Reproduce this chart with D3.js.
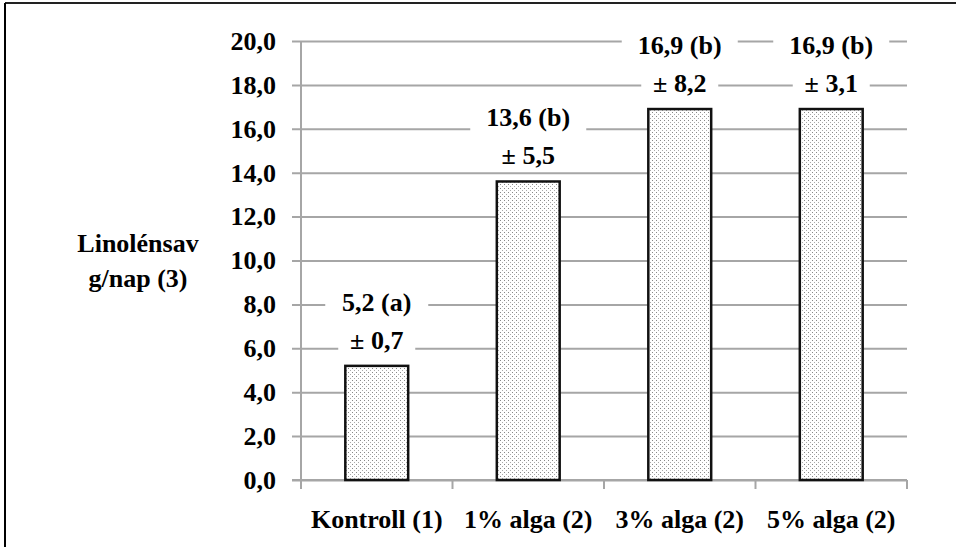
<!DOCTYPE html>
<html><head><meta charset="utf-8">
<script src="https://cdn.jsdelivr.net/npm/d3@7"></script>
</head><body style="margin:0"><svg id="c" width="956" height="547"></svg>
<script>
const categories = ["Kontroll (1)", "1% alga (2)", "3% alga (2)", "5% alga (2)"];
const values = [5.2, 13.6, 16.9, 16.9];
const labelTop = ["5,2 (a)", "13,6 (b)", "16,9 (b)", "16,9 (b)"];
const labelSd = ["± 0,7", "± 5,5", "± 8,2", "± 3,1"];
const yTicks = [0, 2, 4, 6, 8, 10, 12, 14, 16, 18, 20];
const yTitle = ["Linolénsav", "g/nap (3)"];

const FS = 26;
const svg = d3.select("#c");
const L = 301, R = 907, T = 41, B = 480;
const x = d3.scaleBand().domain(categories).range([L, R]).paddingInner(0.585).paddingOuter(0.2925);
const xb = d3.scaleBand().domain(categories).range([L, R]);
const y = d3.scaleLinear().domain([0, 20]).range([B, T]);

function styleText(sel) {
  return sel.attr("font-family", "Times New Roman").attr("font-weight", "bold").attr("font-size", FS).attr("fill", "#000");
}

// frame
svg.append("line").attr("x1", 5).attr("x2", 956).attr("y1", 3).attr("y2", 3).attr("stroke", "#222").attr("stroke-width", 2);
svg.append("line").attr("x1", 5).attr("x2", 5).attr("y1", 3).attr("y2", 547).attr("stroke", "#000").attr("stroke-width", 2);

const defs = svg.append("defs");
const pat = defs.append("pattern").attr("id", "dots").attr("patternUnits", "userSpaceOnUse").attr("width", 4).attr("height", 4);
pat.append("rect").attr("width", 4).attr("height", 4).attr("fill", "#fff");
pat.append("rect").attr("x", 0).attr("y", 0).attr("width", 1).attr("height", 1).attr("fill", "#888");
pat.append("rect").attr("x", 2).attr("y", 2).attr("width", 1).attr("height", 1).attr("fill", "#aaa");

// gridlines + y ticks
const yAxis = d3.axisLeft(y).tickValues(yTicks).tickSize(-(R - L)).tickPadding(0).tickFormat(d => d.toFixed(1).replace(".", ","));
const gy = svg.append("g").attr("transform", `translate(${L},0)`).call(yAxis);
gy.attr("font-family", "Times New Roman").attr("font-size", FS);
gy.select(".domain").remove();
gy.selectAll(".tick line").attr("stroke", "#a6a6a6").attr("stroke-width", 2).attr("x1", -9);
styleText(gy.selectAll(".tick text").attr("x", -25));

// y axis line
svg.append("line").attr("x1", L).attr("x2", L).attr("y1", T).attr("y2", B).attr("stroke", "#a6a6a6").attr("stroke-width", 2);

// x axis
const xAxis = d3.axisBottom(xb).tickSize(0).tickPadding(0).tickFormat("");
const gx = svg.append("g").attr("transform", `translate(0,${B})`).call(xAxis);
gx.select(".domain").attr("stroke", "#a6a6a6").attr("stroke-width", 2).attr("d", `M${L - 9},0H${R}`);
const bounds = categories.map(c => xb(c)).concat([R]);
svg.selectAll(".xt").data(bounds).enter().append("line").attr("x1", d => d).attr("x2", d => d)
  .attr("y1", B).attr("y2", B + 9).attr("stroke", "#a6a6a6").attr("stroke-width", 2);
styleText(svg.selectAll(".xl").data(categories).enter().append("text")
  .attr("x", d => xb(d) + xb.bandwidth() / 2).attr("y", 528).attr("text-anchor", "middle").text(d => d));

// bars
svg.selectAll(".bar").data(values).enter().append("rect")
  .attr("x", (d, i) => x(categories[i])).attr("width", x.bandwidth())
  .attr("y", d => y(d)).attr("height", d => B - y(d))
  .attr("fill", "url(#dots)").attr("stroke", "#111").attr("stroke-width", 2.5);

// labels with white background
values.forEach((v, i) => {
  const cx = x(categories[i]) + x.bandwidth() / 2;
  const lines = [[labelTop[i], y(v) - 55], [labelSd[i], y(v) - 17]];
  lines.forEach(([t, by]) => {
    const w = t.length * FS * 0.5 + 12;
    svg.append("rect").attr("x", cx - w / 2).attr("y", by - FS * 0.75).attr("width", w).attr("height", FS * 0.95).attr("fill", "#fff");
    styleText(svg.append("text").attr("x", cx).attr("y", by).attr("text-anchor", "middle").text(t));
  });
});

// y title
yTitle.forEach((t, i) => {
  styleText(svg.append("text").attr("x", 138).attr("y", 252 + i * 35).attr("text-anchor", "middle").text(t));
});
</script></body></html>
